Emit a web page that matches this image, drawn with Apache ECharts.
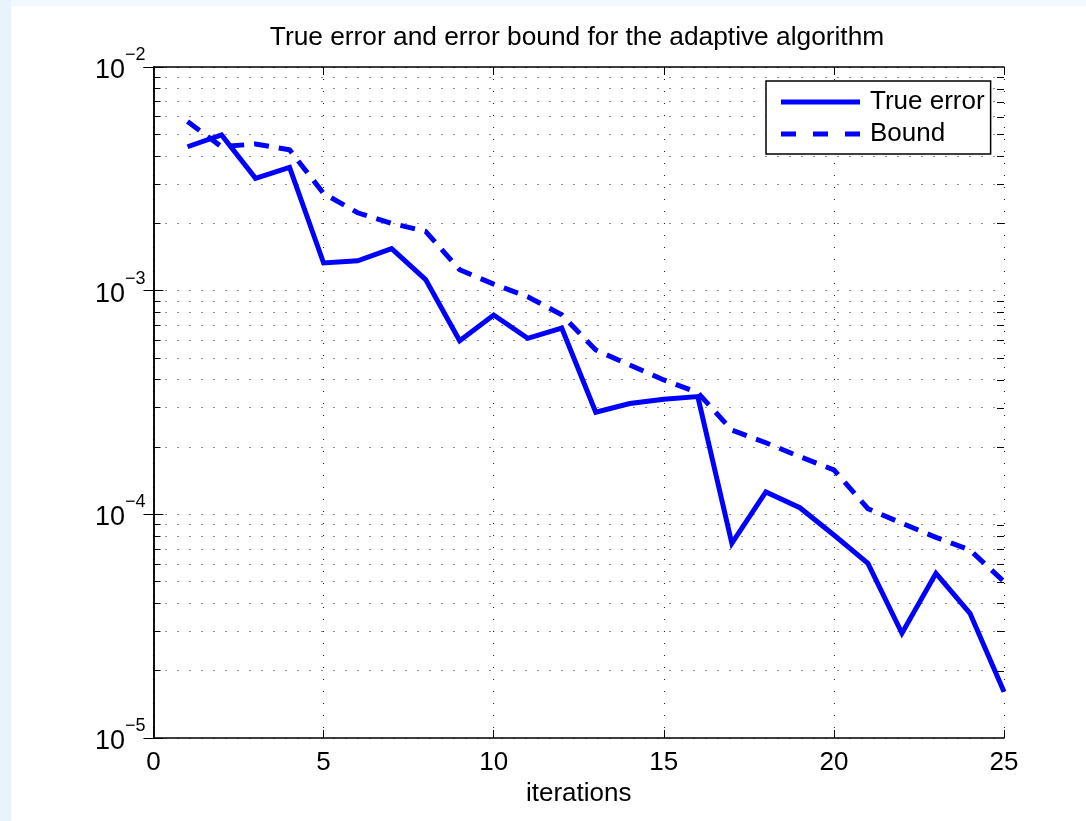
<!DOCTYPE html>
<html>
<head>
<meta charset="utf-8">
<title>True error and error bound for the adaptive algorithm</title>
<script src="https://cdn.jsdelivr.net/npm/echarts@6/dist/echarts.min.js"></script>
<style>
  html, body { margin: 0; padding: 0; background: #e8f3fd; }
  #sheet { position: absolute; left: 11px; top: 6px; right: 0; bottom: 0; background: #ffffff; }
  #topband { position: absolute; left: 11px; top: 0; right: 0; height: 6px; background: #f1f8fe; }
  #chart { position: absolute; left: 0; top: 0; width: 1086px; height: 821px; }
</style>
</head>
<body>
<div id="topband"></div>
<div id="sheet"></div>
<div id="chart"></div>
<script>
// Iteration numbers and the two error curves (log scale)
const iterations = [1, 2, 3, 4, 5, 6, 7, 8, 9, 10, 11, 12, 13, 14, 15, 16, 17, 18, 19, 20, 21, 22, 23, 24, 25];
const trueError = [4.40e-3, 4.97e-3, 3.18e-3, 3.56e-3, 1.33e-3, 1.36e-3, 1.54e-3, 1.12e-3, 5.97e-4, 7.78e-4,
                   6.12e-4, 6.81e-4, 2.86e-4, 3.13e-4, 3.27e-4, 3.36e-4, 7.42e-5, 1.26e-4, 1.07e-4, 8.09e-5,
                   6.04e-5, 2.94e-5, 5.45e-5, 3.61e-5, 1.61e-5];
const errorBound = [5.70e-3, 4.40e-3, 4.53e-3, 4.26e-3, 2.72e-3, 2.23e-3, 2.00e-3, 1.84e-3, 1.24e-3, 1.07e-3,
                    9.40e-4, 7.80e-4, 5.43e-4, 4.65e-4, 3.99e-4, 3.50e-4, 2.38e-4, 2.09e-4, 1.81e-4, 1.58e-4,
                    1.06e-4, 9.12e-5, 7.89e-5, 6.92e-5, 5.00e-5];
const seriesNames = ['True error', 'Bound'];
const xTicks = [0, 5, 10, 15, 20, 25];
const yDecades = [1e-5, 1e-4, 1e-3, 1e-2];

const FONT = '"Liberation Sans", Arial, Helvetica, sans-serif';
const dotted = { color: '#222222', width: 1.1, type: [1, 11] };
const MINOR_TICK_LEN = 7;

const chart = echarts.init(document.getElementById('chart'), null, { renderer: 'canvas' });

// 10 with a raised exponent, e.g. 10^-3
function decadeLabel(v) {
  const e = Math.round(Math.log10(v));
  return '{b|10}{s|' + (e < 0 ? '\u2212' + (-e) : String(e)) + '}';
}

const xBase = {
  type: 'value',
  min: xTicks[0],
  max: xTicks[xTicks.length - 1],
  interval: xTicks[1] - xTicks[0],
  axisLine: { show: true, onZero: false, lineStyle: { color: '#000', width: 1.5 } },
  axisTick: { show: true, inside: true, length: 8, lineStyle: { color: '#000', width: 1 } }
};

const yBase = {
  type: 'log',
  logBase: 10,
  min: yDecades[0],
  max: yDecades[yDecades.length - 1],
  axisLine: { show: true, lineStyle: { color: '#000', width: 1.5 } },
  axisTick: { show: true, inside: true, length: 10, lineStyle: { color: '#000', width: 1 } }
};

// legend glyphs: a solid stroke and a three-dash stroke
const solidGlyph = 'path://M0,0H79V5H0Z';
const dashGlyph = 'path://M0,0H15V5H0Z M32,0H47V5H32Z M64,0H79V5H64Z';

const option = {
  animation: false,
  backgroundColor: 'transparent',
  title: {
    text: 'True error and error bound for the adaptive algorithm',
    left: 577,
    top: 25,
    textAlign: 'center',
    padding: 0,
    textStyle: { fontFamily: FONT, fontSize: 26.3, fontWeight: 'normal', color: '#000', lineHeight: 26 }
  },
  grid: { left: 153.5, right: 82, top: 67, bottom: 83, containLabel: false },
  legend: {
    data: [
      { name: seriesNames[0], icon: solidGlyph },
      { name: seriesNames[1], icon: dashGlyph }
    ],
    orient: 'vertical',
    left: 766,
    top: 81,
    padding: [8, 6, 7, 15],
    itemWidth: 79,
    itemHeight: 26,
    itemGap: 6,
    symbolKeepAspect: true,
    backgroundColor: '#ffffff',
    borderColor: '#000000',
    borderWidth: 1.5,
    borderRadius: 0,
    selectedMode: false,
    itemStyle: { color: '#0000ff', borderWidth: 0 },
    textStyle: { fontFamily: FONT, fontSize: 26, color: '#000', padding: [0, 0, 0, 5], lineHeight: 26 }
  },
  xAxis: [
    Object.assign({}, xBase, {
      position: 'bottom',
      name: 'iterations',
      nameLocation: 'middle',
      nameGap: 42,
      nameTextStyle: { fontFamily: FONT, fontSize: 26, color: '#000' },
      axisLabel: { show: true, margin: 11.5, fontFamily: FONT, fontSize: 26, color: '#000' },
      splitLine: { show: true, lineStyle: dotted }
    }),
    Object.assign({}, xBase, {
      position: 'top',
      axisLabel: { show: false },
      splitLine: { show: false }
    })
  ],
  yAxis: [
    Object.assign({}, yBase, {
      position: 'left',
      minorTick: { show: true, splitNumber: 9, length: MINOR_TICK_LEN, lineStyle: { color: '#000', width: 1 } },
      axisLabel: {
        show: true,
        margin: 8,
        formatter: decadeLabel,
        rich: {
          b: { fontFamily: FONT, fontSize: 27, lineHeight: 27, color: '#000', padding: [11, 0, 4, 0] },
          s: { fontFamily: FONT, fontSize: 18, lineHeight: 18, color: '#000', padding: [0, 0, 24, 0] }
        }
      },
      splitLine: { show: true, lineStyle: dotted },
      minorSplitLine: { show: true, lineStyle: dotted }
    }),
    Object.assign({}, yBase, {
      position: 'right',
      minorTick: { show: false },
      axisLabel: { show: false },
      splitLine: { show: false },
      minorSplitLine: { show: false }
    })
  ],
  series: [
    {
      name: seriesNames[0],
      type: 'line',
      xAxisIndex: 0,
      yAxisIndex: 0,
      data: iterations.map((it, i) => [it, trueError[i]]),
      symbol: 'none',
      color: '#0000ff',
      lineStyle: { color: '#0000ff', width: 5, type: 'solid', join: 'miter' },
      z: 3
    },
    {
      name: seriesNames[1],
      type: 'line',
      xAxisIndex: 0,
      yAxisIndex: 0,
      data: iterations.map((it, i) => [it, errorBound[i]]),
      symbol: 'none',
      color: '#0000ff',
      lineStyle: { color: '#0000ff', width: 5, type: [15, 10], join: 'miter' },
      z: 3
    }
  ]
};

chart.setOption(option);

// Minor ticks along the right-hand frame (2..9 within each decade), placed through the y scale
const rightX = chart.convertToPixel({ xAxisIndex: 0 }, xTicks[xTicks.length - 1]);
const rightMinor = [];
for (let d = 0; d < yDecades.length - 1; d++) {
  for (let k = 2; k <= 9; k++) {
    const y = Math.round(chart.convertToPixel({ yAxisIndex: 0 }, k * yDecades[d])) + 0.5;
    rightMinor.push({
      type: 'line',
      silent: true,
      z: 10,
      shape: { x1: rightX, y1: y, x2: rightX - MINOR_TICK_LEN, y2: y },
      style: { stroke: '#000', lineWidth: 1 }
    });
  }
}
chart.setOption({ graphic: rightMinor });
</script>
</body>
</html>
